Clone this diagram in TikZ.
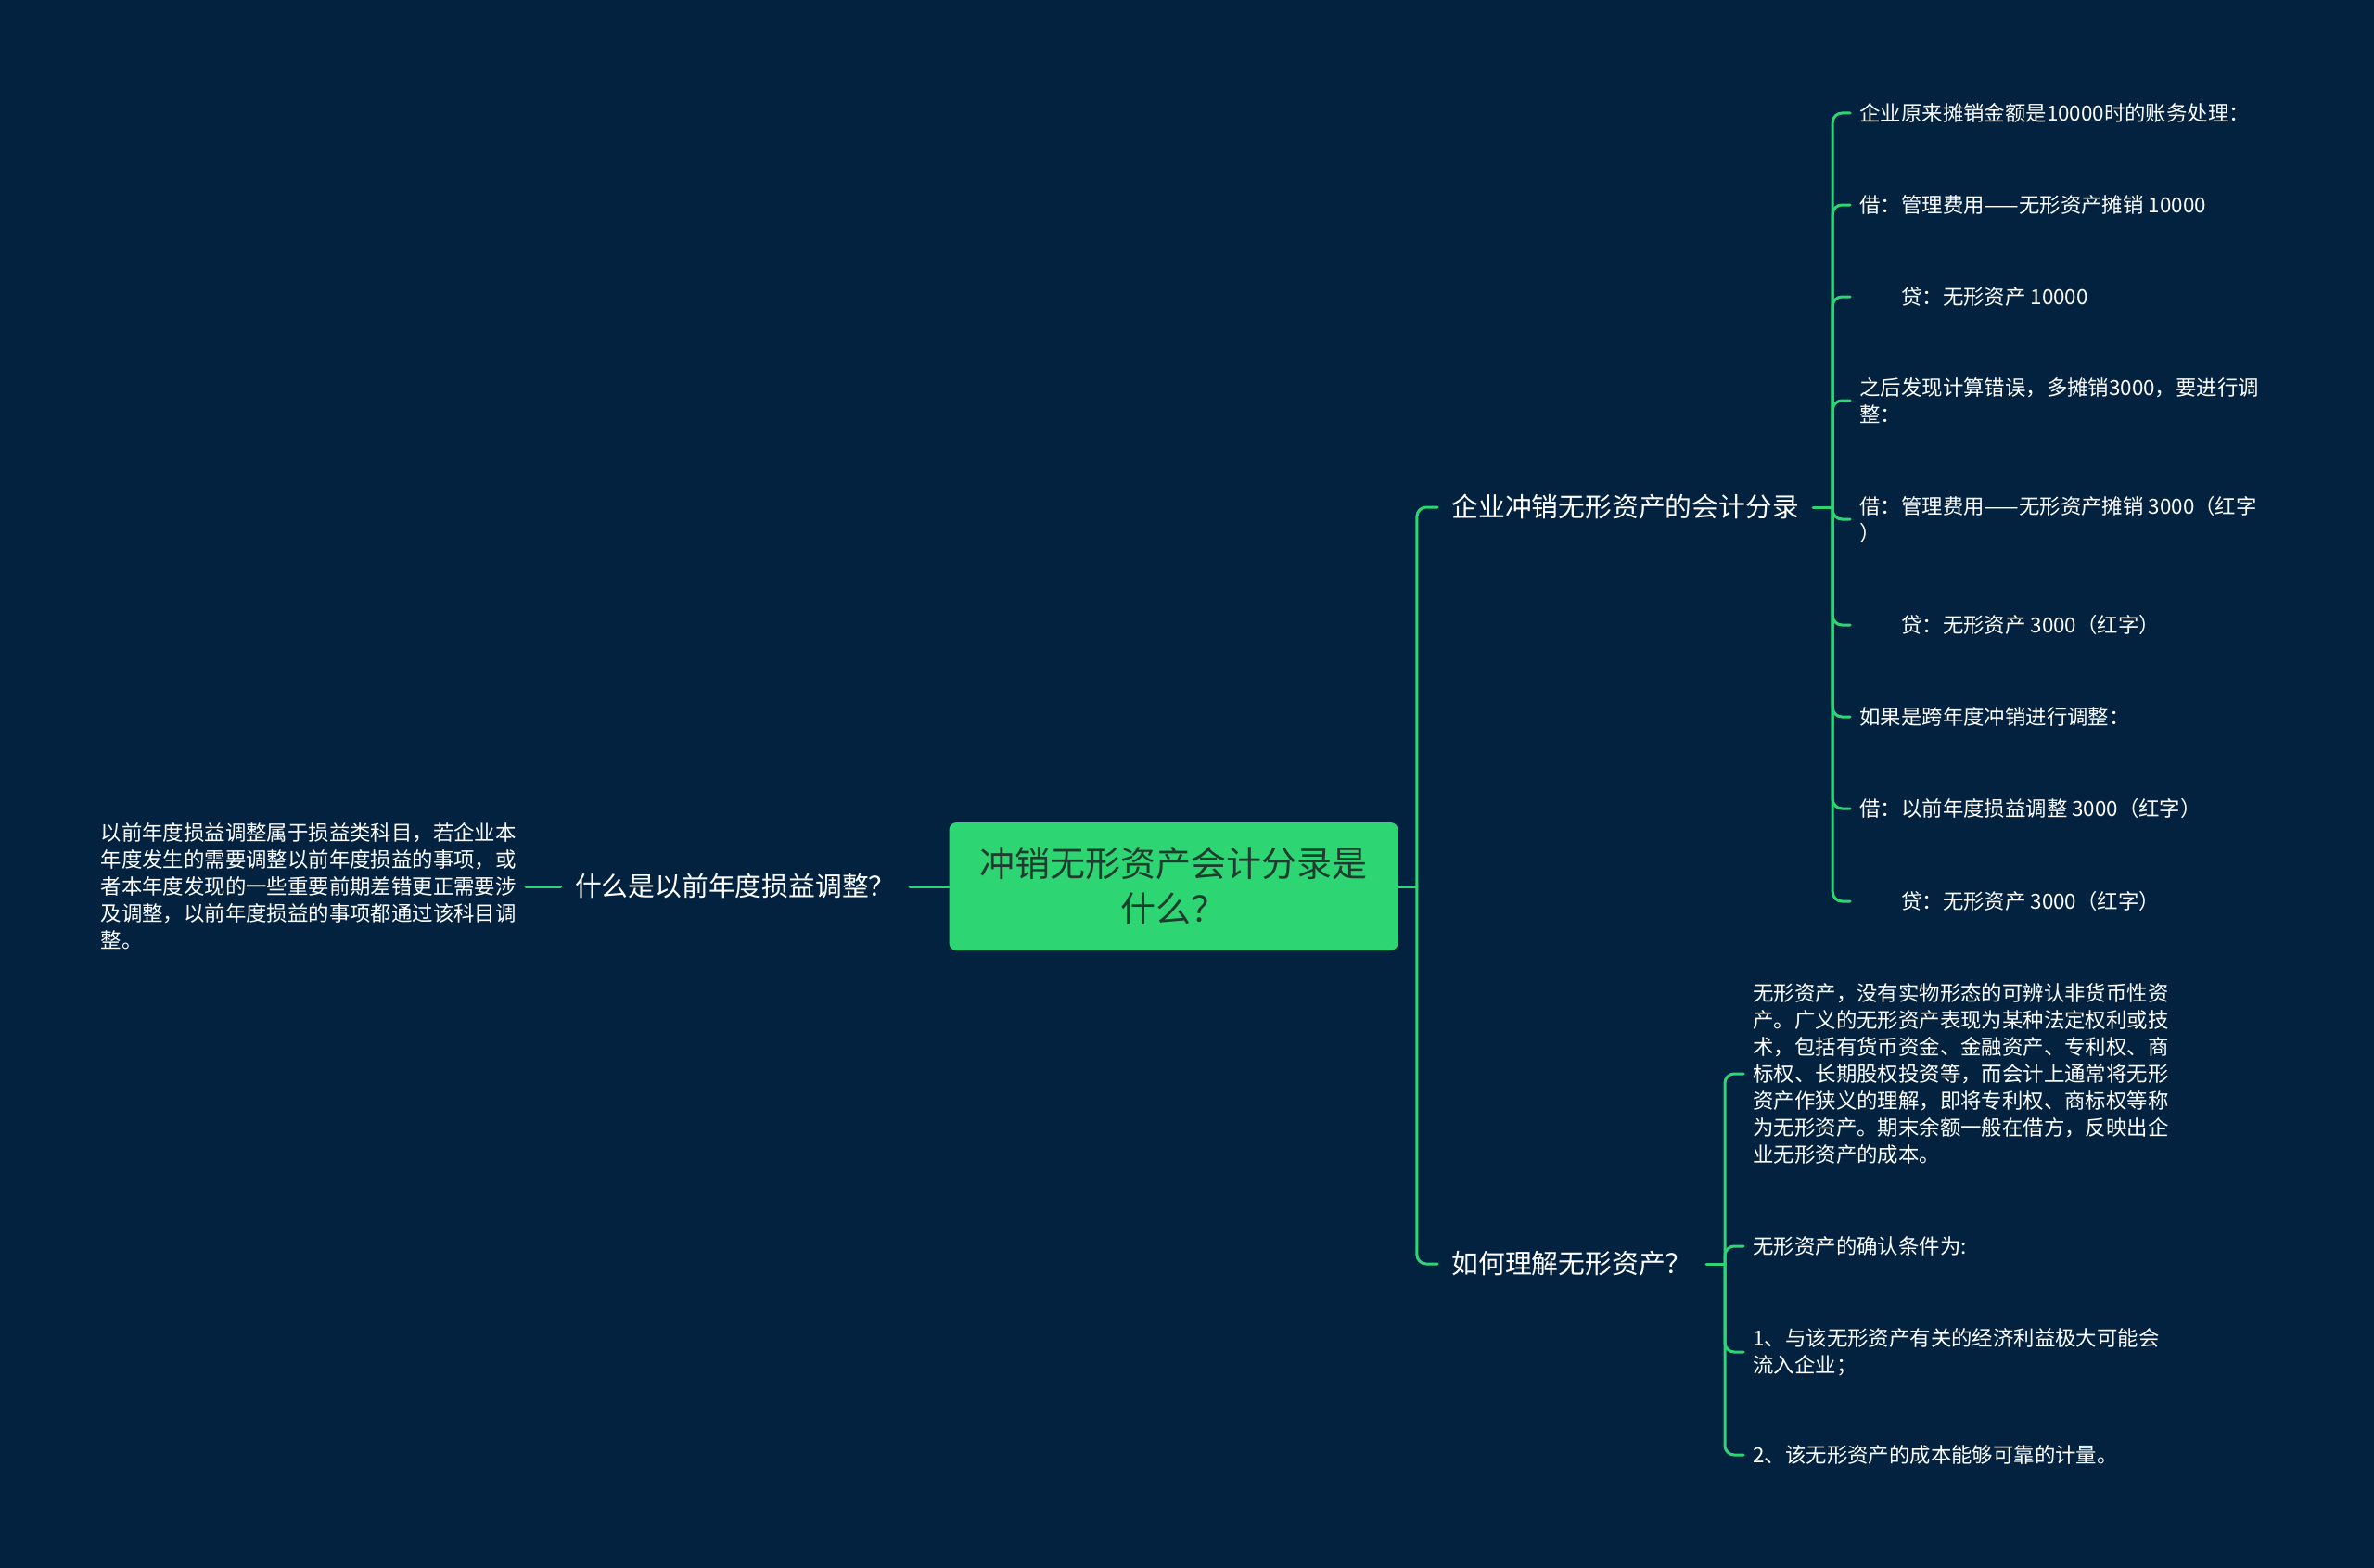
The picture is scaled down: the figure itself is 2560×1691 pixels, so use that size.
\documentclass[tikz,border=0pt]{standalone}
\usepackage{fontspec}
\setmainfont{Noto Sans CJK SC}
\usepackage{tikz}

\definecolor{bgnavy}{HTML}{022240}
\definecolor{mindgreen}{HTML}{2ED573}
\definecolor{darktext}{HTML}{1E3D2F}

\begin{document}
\begin{tikzpicture}[x=0.5pt, y=-0.5pt, line join=round, line cap=round,
	link/.style={draw=mindgreen, line width=1.5pt, rounded corners=5pt},
	topic/.style={fill=mindgreen, text=darktext, rounded corners=4pt, align=center, inner sep=0pt,
		minimum width=242pt, minimum height=69pt, font=\fontsize{19pt}{24.5pt}\selectfont},
	branch/.style={text=white, inner xsep=7.5pt, inner ysep=2pt, font=\fontsize{14.4pt}{18pt}\selectfont},
	leaf/.style={text=white, align=left, inner xsep=5pt, inner ysep=1pt, font=\fontsize{11.2pt}{14.5pt}\selectfont}]
	% NỀN
	\fill[bgnavy] (0,0) rectangle (2560,1691);
	
	% 中心主题
	\node[topic] (root) at (1265.5,956) {冲销无形资产会计分录是\\什么？};
	
	% 左侧：以前年度损益调整
	\node[branch, anchor=east] (q) at (981,956) {什么是以前年度损益调整？};
	\node[leaf, anchor=east] (d1) at (567,956) {以前年度损益调整属于损益类科目，若企业本\\年度发生的需要调整以前年度损益的事项，或\\者本年度发现的一些重要前期差错更正需要涉\\及调整，以前年度损益的事项都通过该科目调\\整。};
	\draw[link] (root.west) -- (q.east);
	\draw[link] (q.west) -- (d1.east);
	
	% 右侧两个分支
	\node[branch, anchor=west] (b1) at (1550,547) {企业冲销无形资产的会计分录};
	\node[branch, anchor=west] (b2) at (1550,1363) {如何理解无形资产？};
	\draw[link] (root.east) -- ++(20,0) coordinate (tr);
	\draw[link] (tr) |- (b1.west);
	\draw[link] (tr) |- (b2.west);
	
	% 分支一：会计分录
	\node[leaf, anchor=west] (a1) at (1995,122) {企业原来摊销金额是10000时的账务处理：};
	\node[leaf, anchor=west] (a2) at (1995,221) {借：管理费用——无形资产摊销 10000};
	\node[leaf, anchor=west] (a3) at (1995,320) {\hspace*{2em}贷：无形资产 10000};
	\node[leaf, anchor=west] (a4) at (1995,432) {之后发现计算错误，多摊销3000，要进行调\\整：};
	\node[leaf, anchor=west] (a5) at (1995,560) {借：管理费用——无形资产摊销 3000（红字\\）};
	\node[leaf, anchor=west] (a6) at (1995,674) {\hspace*{2em}贷：无形资产 3000（红字）};
	\node[leaf, anchor=west] (a7) at (1995,773) {如果是跨年度冲销进行调整：};
	\node[leaf, anchor=west] (a8) at (1995,872) {借：以前年度损益调整 3000（红字）};
	\node[leaf, anchor=west] (a9) at (1995,972) {\hspace*{2em}贷：无形资产 3000（红字）};
	\draw[link] (b1.east) -- ++(21,0) coordinate (t1);
	\foreach \i in {1,...,9}
		\draw[link] (t1) |- (a\i.west);
	
	% 分支二：理解无形资产
	\node[leaf, anchor=west] (c1) at (1880,1158) {无形资产，没有实物形态的可辨认非货币性资\\产。广义的无形资产表现为某种法定权利或技\\术，包括有货币资金、金融资产、专利权、商\\标权、长期股权投资等，而会计上通常将无形\\资产作狭义的理解，即将专利权、商标权等称\\为无形资产。期末余额一般在借方，反映出企\\业无形资产的成本。};
	\node[leaf, anchor=west] (c2) at (1880,1344) {无形资产的确认条件为:};
	\node[leaf, anchor=west] (c3) at (1880,1458) {1、与该无形资产有关的经济利益极大可能会\\流入企业；};
	\node[leaf, anchor=west] (c4) at (1880,1569) {2、该无形资产的成本能够可靠的计量。};
	\draw[link] (b2.east) -- ++(20,0) coordinate (t2);
	\foreach \i in {1,...,4}
		\draw[link] (t2) |- (c\i.west);
\end{tikzpicture}
\end{document}
